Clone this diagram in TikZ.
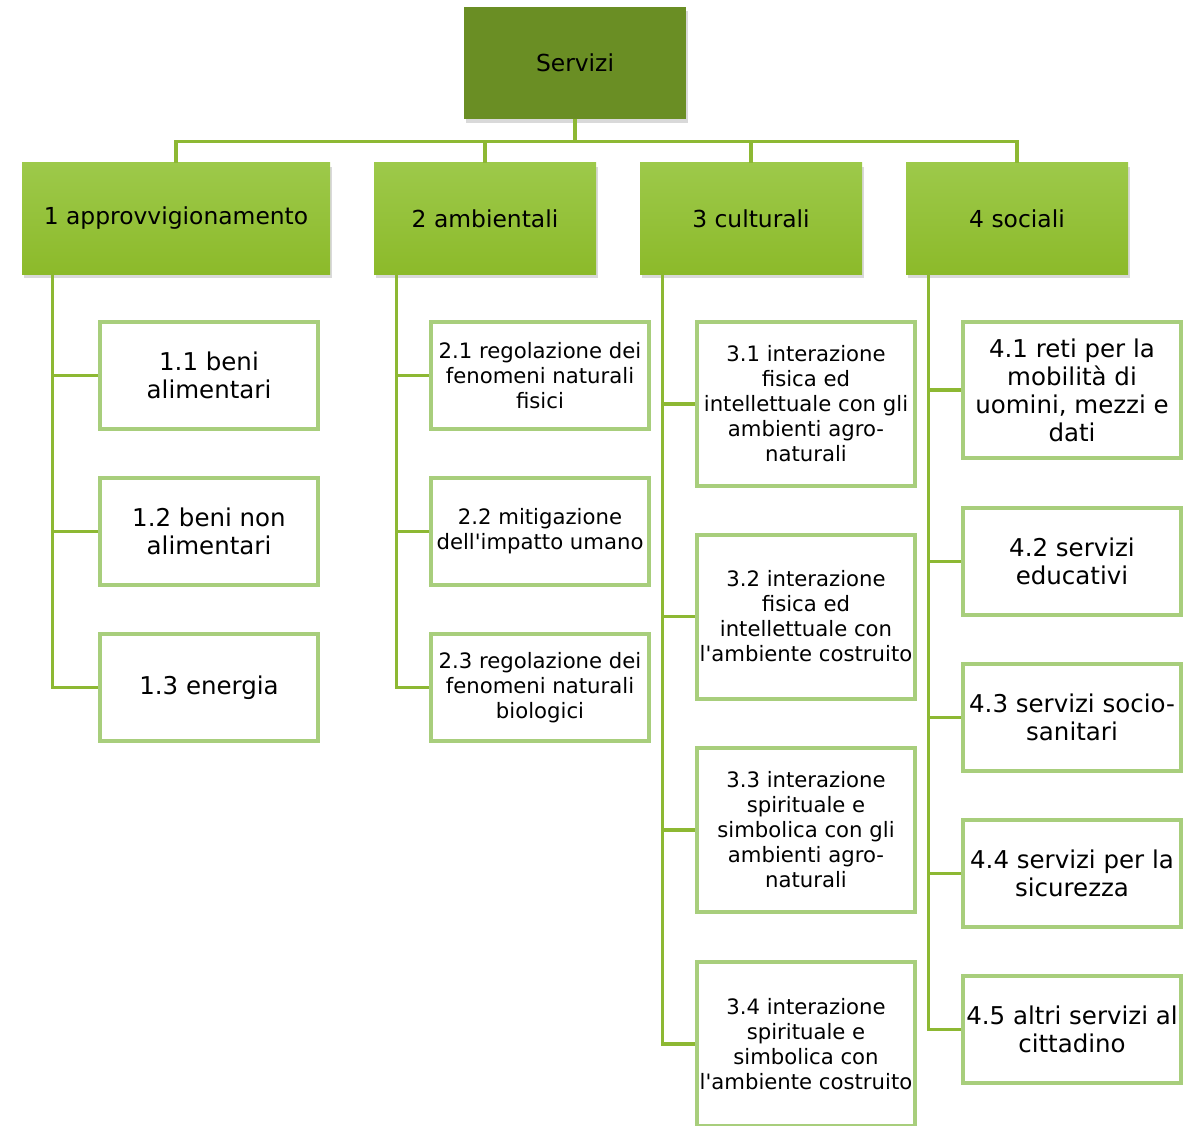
\documentclass[tikz,border=0pt]{standalone}
\usepackage{fontspec}
\setmainfont{DejaVu Sans}[Ligatures=TeXOff]
\usepackage{xcolor}
\usetikzlibrary{positioning,shadows}
\definecolor{rootgreen}{HTML}{6A8E24}
\definecolor{headtop}{HTML}{9DC94A}
\definecolor{headbot}{HTML}{8CBA2A}
\definecolor{boxline}{HTML}{A8CE7C}
\definecolor{linkgreen}{HTML}{8DB833}

\begin{document}
\begin{tikzpicture}[x=1pt,y=-1pt,
            root/.style={
                fill=rootgreen,
                minimum width=222pt,
                minimum height=112pt,
                inner sep=0pt,
                font=\fontsize{23.4}{28}\selectfont,
                drop shadow={shadow xshift=2pt,shadow yshift=-4pt,opacity=0.3}
            },
            head/.style={
                top color=headtop,
                bottom color=headbot,
                minimum width=222pt,
                minimum height=111pt,
                inner sep=0pt,
                font=\fontsize{23.4}{28}\selectfont,
                drop shadow={shadow xshift=2pt,shadow yshift=-4pt,opacity=0.3}
            },
            leaf/.style={
                draw=boxline,
                line width=4pt,
                fill=white,
                minimum width=218pt,
                minimum height=107pt,
                inner sep=0pt,
                align=center,
                font=\fontsize{24.5}{28}\selectfont
            },
            leafs/.style={leaf, font=\fontsize{21.2}{25}\selectfont},
            tall/.style={leafs, minimum height=164pt},
            link/.style={draw=linkgreen, line width=3.2pt}]
    \useasboundingbox (0,0) rectangle (1199,1126);

    % top
    \node[root] (root) at (575,63) {Servizi};

    % first level
    \node[head, minimum width=308pt] (h1) at (176,218.5) {1 approvvigionamento};
    \node[head] (h2) at (485,218.5) {2 ambientali};
    \node[head] (h3) at (751,218.5) {3 culturali};
    \node[head] (h4) at (1017,218.5) {4 sociali};

    % connectors to first level
    \foreach \h in {h1,h2,h3,h4}
        \draw[link] (root.south) -- ++(0,22) -| (\h.north);

    % 1
    \node[leaf] (a1) at (209,375.5) {1.1 beni\\alimentari};
    \node[leaf] (a2) at (209,531.5) {1.2 beni non\\alimentari};
    \node[leaf] (a3) at (209,687.5) {1.3 energia};

    % 2
    \node[leafs] (b1) at (540,375.5) {2.1 regolazione dei\\fenomeni naturali\\fisici};
    \node[leafs] (b2) at (540,531.5) {2.2 mitigazione\\dell'impatto umano};
    \node[leafs] (b3) at (540,687.5) {2.3 regolazione dei\\fenomeni naturali\\biologici};

    % 3
    \node[tall] (c1) at (806,404) {3.1 interazione\\fisica ed\\intellettuale con gli\\ambienti agro-\\naturali};
    \node[tall] (c2) at (806,616.5) {3.2 interazione\\fisica ed\\intellettuale con\\l'ambiente costruito};
    \node[tall] (c3) at (806,830) {3.3 interazione\\spirituale e\\simbolica con gli\\ambienti agro-\\naturali};
    \node[tall] (c4) at (806,1044) {3.4 interazione\\spirituale e\\simbolica con\\l'ambiente costruito};

    % 4
    \node[leaf, minimum height=136pt] (d1) at (1072,390) {4.1 reti per la\\mobilità di\\uomini, mezzi e\\dati};
    \node[leaf] (d2) at (1072,561.5) {4.2 servizi\\educativi};
    \node[leaf] (d3) at (1072,717.5) {4.3 servizi socio-\\sanitari};
    \node[leaf] (d4) at (1072,873.5) {4.4 servizi per la\\sicurezza};
    \node[leaf] (d5) at (1072,1029.5) {4.5 altri servizi al\\cittadino};

    % connectors to second level
    \foreach \c in {a1,a2,a3}
        \draw[link] (h1.south west) ++(31,0) |- (\c.west);
    \foreach \c in {b1,b2,b3}
        \draw[link] (h2.south west) ++(23,0) |- (\c.west);
    \foreach \c in {c1,c2,c3,c4}
        \draw[link] (h3.south west) ++(23,0) |- (\c.west);
    \foreach \c in {d1,d2,d3,d4,d5}
        \draw[link] (h4.south west) ++(23,0) |- (\c.west);
\end{tikzpicture}
\end{document}
